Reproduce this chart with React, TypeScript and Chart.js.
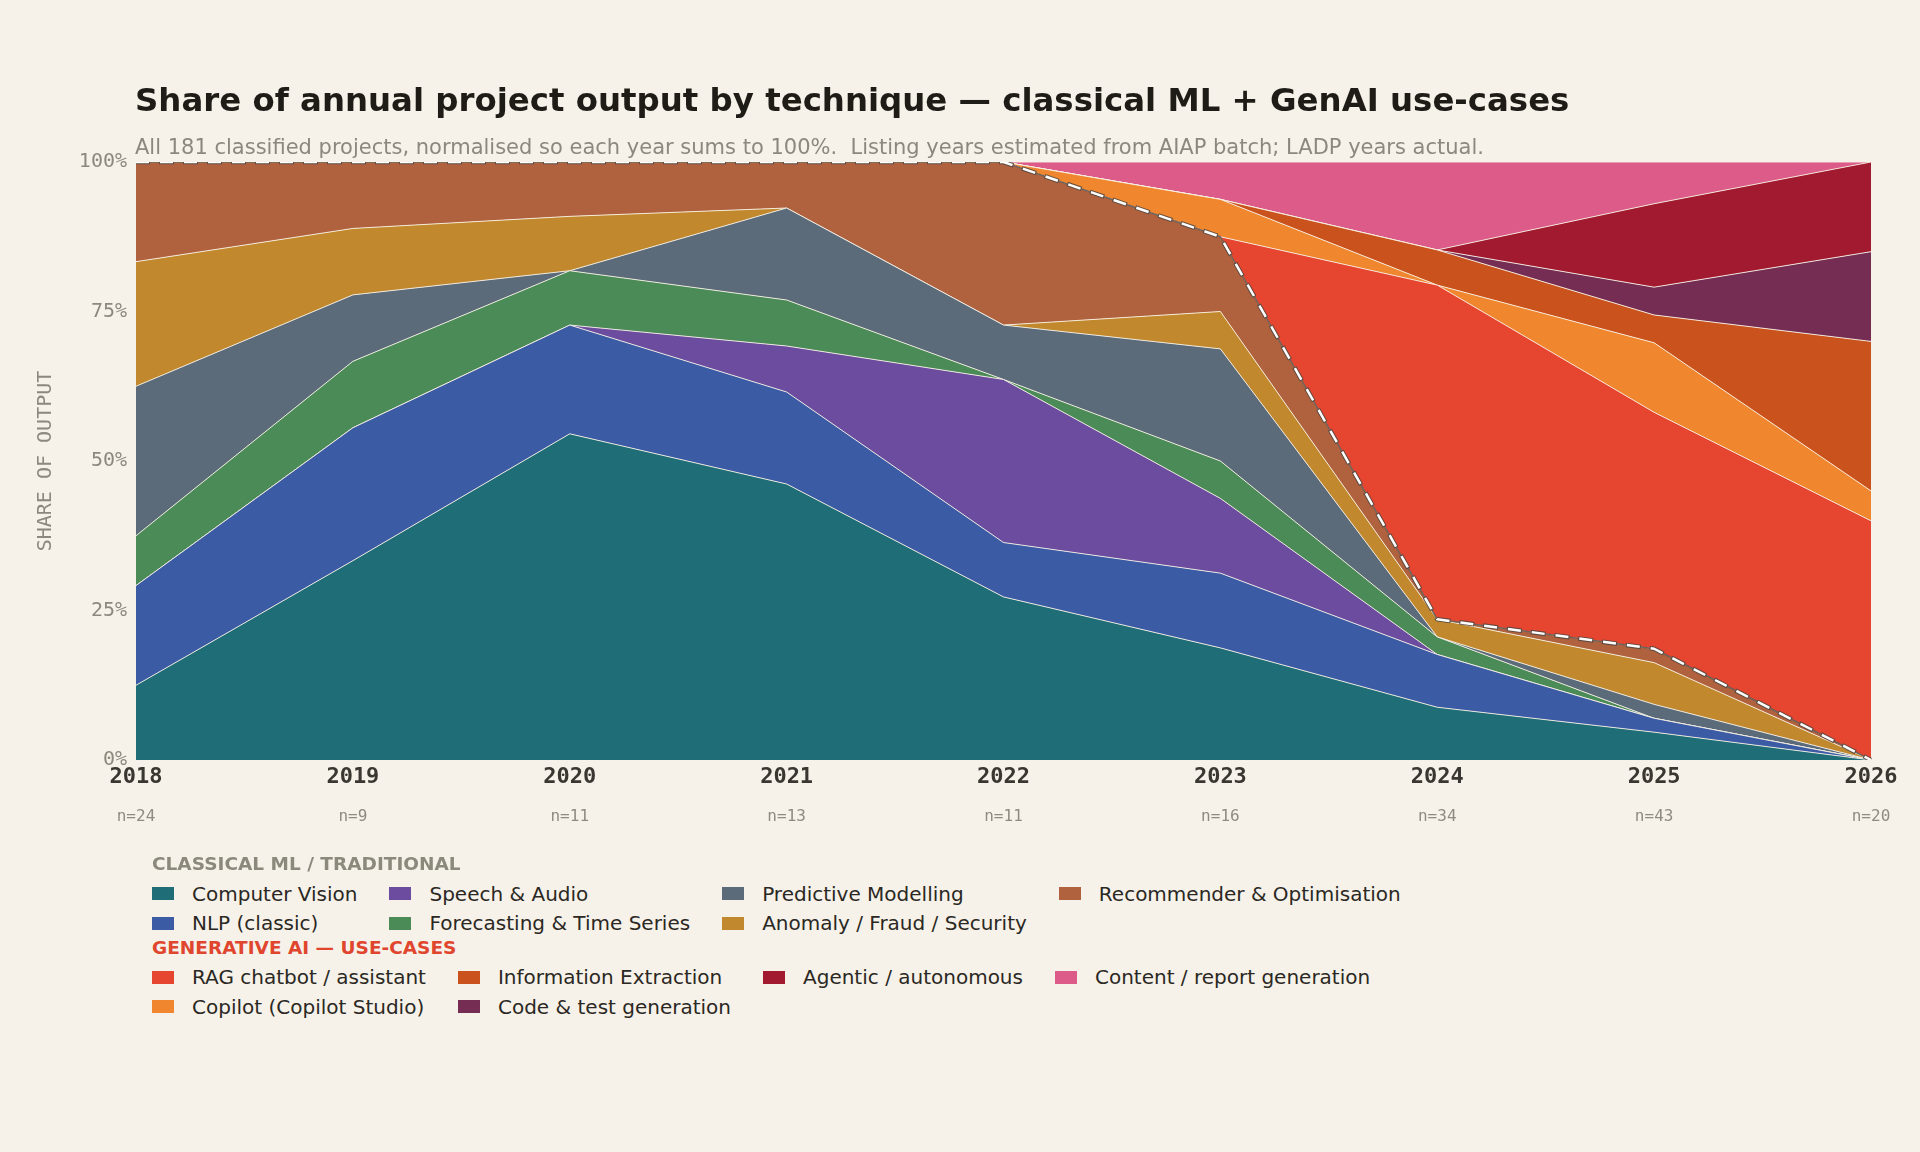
import React, { useEffect, useRef } from 'react';
import { Chart, registerables } from 'chart.js';

Chart.register(...registerables);

// ---------- data ----------
const YEARS = ['2018', '2019', '2020', '2021', '2022', '2023', '2024', '2025', '2026'];
const N_PROJECTS = [24, 9, 11, 13, 11, 16, 34, 43, 20];

// project counts per technique per year (shares = count / n)
const COMPUTER_VISION = [3, 3, 6, 6, 3, 3, 3, 2, 0];
const NLP_CLASSIC = [4, 2, 2, 2, 1, 2, 3, 1, 0];
const SPEECH_AUDIO = [0, 0, 0, 1, 3, 2, 0, 0, 0];
const FORECASTING = [2, 1, 1, 1, 0, 1, 1, 0, 0];
const PREDICTIVE = [6, 1, 0, 2, 1, 3, 0, 1, 0];
const ANOMALY = [5, 1, 1, 0, 0, 1, 1, 3, 0];
const RECOMMENDER = [4, 1, 1, 1, 3, 2, 0, 1, 0];
const RAG_CHATBOT = [0, 0, 0, 0, 0, 0, 19, 17, 8];
const COPILOT = [0, 0, 0, 0, 0, 1, 0, 5, 1];
const INFO_EXTRACTION = [0, 0, 0, 0, 0, 0, 2, 2, 5];
const CODE_TEST = [0, 0, 0, 0, 0, 0, 0, 2, 3];
const AGENTIC = [0, 0, 0, 0, 0, 0, 0, 6, 3];
const CONTENT_REPORT = [0, 0, 0, 0, 0, 1, 5, 3, 0];

const Y_TICKS = [0, 25, 50, 75, 100];

const CLASSICAL = [
  { label: 'Computer Vision', counts: COMPUTER_VISION, color: '#1f6e77' },
  { label: 'NLP (classic)', counts: NLP_CLASSIC, color: '#3b5ba5' },
  { label: 'Speech & Audio', counts: SPEECH_AUDIO, color: '#6b4c9e' },
  { label: 'Forecasting & Time Series', counts: FORECASTING, color: '#4a8b58' },
  { label: 'Predictive Modelling', counts: PREDICTIVE, color: '#5b6b7a' },
  { label: 'Anomaly / Fraud / Security', counts: ANOMALY, color: '#c1882d' },
  { label: 'Recommender & Optimisation', counts: RECOMMENDER, color: '#b0623f' },
];
const GENAI = [
  { label: 'RAG chatbot / assistant', counts: RAG_CHATBOT, color: '#e6452f' },
  { label: 'Copilot (Copilot Studio)', counts: COPILOT, color: '#f0862e' },
  { label: 'Information Extraction', counts: INFO_EXTRACTION, color: '#c9521d' },
  { label: 'Code & test generation', counts: CODE_TEST, color: '#752d54' },
  { label: 'Agentic / autonomous', counts: AGENTIC, color: '#a11a2f' },
  { label: 'Content / report generation', counts: CONTENT_REPORT, color: '#dc5b88' },
];

const BG = '#f6f2e9';
const MONO = '"DejaVu Sans Mono", monospace';
const SANS = '"DejaVu Sans", sans-serif';

const share = (counts: number[]) => counts.map((c, i) => (c / N_PROJECTS[i]) * 100);

const nLabelsPlugin = {
  id: 'nLabels',
  afterDraw(chart: any) {
    const { ctx, scales } = chart;
    const xs = scales.x;
    ctx.save();
    ctx.font = `16px ${MONO}`;
    ctx.fillStyle = '#8f8b80';
    ctx.textAlign = 'center';
    ctx.textBaseline = 'middle';
    N_PROJECTS.forEach((n, i) => {
      ctx.fillText(`n=${n}`, xs.getPixelForValue(i), 817);
    });
    ctx.restore();
  },
};

function ChartCanvas() {
  const ref = useRef<HTMLCanvasElement | null>(null);
  useEffect(() => {
    if (!ref.current) return;
    const all = [...CLASSICAL, ...GENAI];
    const areaSets = all.map((s, i) => ({
      label: s.label,
      data: share(s.counts),
      backgroundColor: s.color,
      borderColor: 'rgba(248,242,230,0.9)',
      borderWidth: 1,
      fill: i === 0 ? 'origin' : '-1',
      pointRadius: 0,
      pointHoverRadius: 0,
      tension: 0,
      yAxisID: 'y',
      order: 0,
    }));
    const classicalTotal = YEARS.map((_, i) =>
      CLASSICAL.reduce((acc, s) => acc + (s.counts[i] / N_PROJECTS[i]) * 100, 0)
    );
    const base = {
      data: classicalTotal,
      fill: false,
      pointRadius: 0,
      tension: 0,
      yAxisID: 'yb',
    };
    const boundaryThin = {
      ...base,
      label: 'boundary-thin',
      borderColor: 'rgba(80,70,64,0.8)',
      borderWidth: 1.5,
      order: -1,
    };
    const boundaryOutline = {
      ...base,
      label: 'boundary-outline',
      borderColor: 'rgba(80,70,64,0.85)',
      borderWidth: 4.5,
      borderDash: [15, 9],
      borderDashOffset: 1,
      order: -2,
    };
    const boundary = {
      ...base,
      label: 'boundary',
      borderColor: '#ffffff',
      borderWidth: 2.5,
      borderDash: [13, 11],
      borderDashOffset: 0,
      order: -3,
    };

    const chart = new Chart(ref.current, {
      type: 'line',
      data: {
        labels: YEARS,
        datasets: [...areaSets, boundaryThin, boundaryOutline, boundary] as any,
      },
      options: {
        animation: false,
        responsive: false,
        events: [],
        layout: { padding: { left: 0, right: 49, top: 162, bottom: 0 } },
        plugins: {
          legend: { display: false },
          tooltip: { enabled: false },
          title: { display: false },
        },
        elements: { line: { borderJoinStyle: 'round' } },
        scales: {
          x: {
            type: 'category',
            offset: false,
            grid: { display: false, drawTicks: false },
            border: { display: false },
            ticks: {
              font: { family: MONO, size: 22, weight: 'bold' },
              color: '#3a3631',
              padding: 4,
              maxRotation: 0,
              autoSkip: false,
            },
            afterFit: (s: any) => {
              s.height = 100;
            },
          },
          y: {
            stacked: true,
            min: 0,
            max: 100,
            z: 1,
            afterBuildTicks: (s: any) => {
              s.ticks = Y_TICKS.map((v) => ({ value: v }));
            },
            ticks: {
              callback: (v: any) => `${v}%`,
              font: { family: MONO, size: 20 },
              color: '#8c887d',
              padding: 9,
            },
            grid: {
              drawTicks: false,
              lineWidth: 1.5,
              color: (c: any) =>
                c.tick && (c.tick.value === 0 || c.tick.value === 100)
                  ? 'rgba(0,0,0,0)'
                  : 'rgba(255,255,255,0.55)',
            },
            border: { display: false, dash: [3, 6] },
            title: {
              display: true,
              text: 'SHARE OF OUTPUT',
              font: { family: MONO, size: 20 },
              color: '#8c887d',
              padding: { top: 34, bottom: 0 },
            },
            afterFit: (s: any) => {
              s.width = 136;
            },
          },
          yb: {
            display: false,
            min: 0,
            max: 100,
            stacked: false,
          },
        },
      } as any,
      plugins: [nLabelsPlugin],
    });
    return () => chart.destroy();
  }, []);
  return (
    <canvas
      ref={ref}
      width={1920}
      height={860}
      style={{ position: 'absolute', left: 0, top: 0, width: 1920, height: 860 }}
    />
  );
}

// column-major placement like a 4-column legend (larger columns first)
function placements(count: number, ncols: number) {
  const nrows = Math.floor(count / ncols);
  const large = count % ncols;
  const perCol = Array.from({ length: ncols }, (_, c) => (c < large ? nrows + 1 : nrows));
  const out: { row: number; col: number }[] = [];
  perCol.forEach((rows, c) => {
    for (let r = 0; r < rows; r++) out.push({ row: r + 1, col: c + 1 });
  });
  return out;
}

function LegendGrid({ items, top }: { items: { label: string; color: string }[]; top: number }) {
  const pos = placements(items.length, 4);
  return (
    <div
      style={{
        position: 'absolute',
        left: 152,
        top,
        display: 'grid',
        gridTemplateRows: 'repeat(2, 29.5px)',
        gridTemplateColumns: 'repeat(4, auto)',
        columnGap: 32,
        fontFamily: SANS,
        fontSize: 20,
        color: '#2b2824',
      }}
    >
      {items.map((it, i) => (
        <div
          key={it.label}
          style={{
            display: 'flex',
            alignItems: 'center',
            whiteSpace: 'nowrap',
            gridRow: pos[i].row,
            gridColumn: pos[i].col,
          }}
        >
          <span
            style={{
              display: 'inline-block',
              width: 22,
              height: 13,
              background: it.color,
              marginRight: 18,
            }}
          />
          <span>{it.label}</span>
        </div>
      ))}
    </div>
  );
}

export default function App() {
  return (
    <div
      style={{
        position: 'fixed',
        left: 0,
        top: 0,
        width: 1920,
        height: 1152,
        background: BG,
        overflow: 'hidden',
      }}
    >
      <ChartCanvas />
      <div
        style={{
          position: 'absolute',
          left: 135,
          top: 82,
          fontFamily: SANS,
          fontWeight: 'bold',
          fontSize: 32.4,
          lineHeight: '36px',
          color: '#1f1c18',
          whiteSpace: 'nowrap',
        }}
      >
        Share of annual project output by technique — classical ML + GenAI use-cases
      </div>
      <div
        style={{
          position: 'absolute',
          left: 135,
          top: 135,
          fontFamily: SANS,
          fontSize: 21,
          lineHeight: '24px',
          color: '#8c887e',
          whiteSpace: 'pre',
        }}
      >
        All 181 classified projects, normalised so each year sums to 100%.  Listing years estimated from AIAP batch; LADP years actual.
      </div>
      <div
        style={{
          position: 'absolute',
          left: 152,
          top: 852,
          fontFamily: SANS,
          fontWeight: 'bold',
          fontSize: 18.5,
          lineHeight: '24px',
          color: '#8b887c',
          whiteSpace: 'nowrap',
        }}
      >
        CLASSICAL ML / TRADITIONAL
      </div>
      <LegendGrid items={CLASSICAL} top={879} />
      <div
        style={{
          position: 'absolute',
          left: 152,
          top: 936,
          fontFamily: SANS,
          fontWeight: 'bold',
          fontSize: 18.5,
          lineHeight: '24px',
          color: '#e0452e',
          whiteSpace: 'nowrap',
        }}
      >
        GENERATIVE AI — USE-CASES
      </div>
      <LegendGrid items={GENAI} top={962.5} />
    </div>
  );
}
